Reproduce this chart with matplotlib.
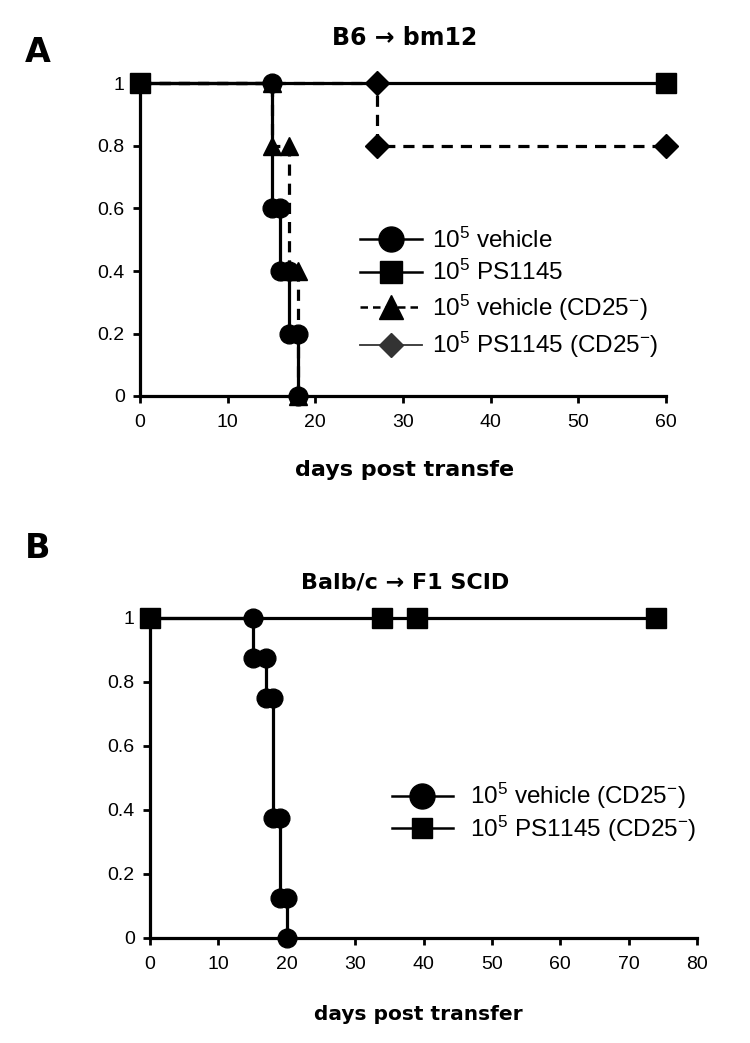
import matplotlib
matplotlib.use("Agg")
import matplotlib.pyplot as plt
from matplotlib.lines import Line2D

plt.rcParams['font.family'] = ['Liberation Sans', 'DejaVu Sans']
plt.rcParams['mathtext.fontset'] = 'custom'
plt.rcParams['mathtext.rm'] = 'Liberation Sans'
plt.rcParams['mathtext.it'] = 'Liberation Sans:italic'
plt.rcParams['mathtext.bf'] = 'Liberation Sans:bold'

# ---------------- data ----------------
# Panel A: B6 -> bm12
a_vehicle_days = [0, 15, 15, 16, 16, 17, 17, 18, 18]
a_vehicle_surv = [1.0, 1.0, 0.6, 0.6, 0.4, 0.4, 0.2, 0.2, 0.0]
a_ps1145_days = [0, 60]
a_ps1145_surv = [1.0, 1.0]
a_vehicle_cd25_days = [0, 15, 15, 17, 17, 18, 18]
a_vehicle_cd25_surv = [1.0, 1.0, 0.8, 0.8, 0.4, 0.4, 0.0]
a_ps1145_cd25_days = [0, 27, 27, 60]
a_ps1145_cd25_surv = [1.0, 1.0, 0.8, 0.8]

# Panel B: Balb/c -> F1 SCID
b_vehicle_cd25_days = [0, 15, 15, 17, 17, 18, 18, 19, 19, 20, 20]
b_vehicle_cd25_surv = [1.0, 1.0, 0.875, 0.875, 0.75, 0.75, 0.375, 0.375, 0.125, 0.125, 0.0]
b_ps1145_cd25_days = [0, 34, 39, 74]
b_ps1145_cd25_surv = [1.0, 1.0, 1.0, 1.0]

y_ticks = [0, 0.2, 0.4, 0.6, 0.8, 1]
y_ticklabels = ['0', '0.2', '0.4', '0.6', '0.8', '1']
a_x_ticks = [0, 10, 20, 30, 40, 50, 60]
b_x_ticks = [0, 10, 20, 30, 40, 50, 60, 70, 80]

labels_a = [r'10$^{\mathregular{5}}$ vehicle',
            r'10$^{\mathregular{5}}$ PS1145',
            r'10$^{\mathregular{5}}$ vehicle (CD25$^{\mathregular{-}}$)',
            r'10$^{\mathregular{5}}$ PS1145 (CD25$^{\mathregular{-}}$)']
labels_b = [r'10$^{\mathregular{5}}$ vehicle (CD25$^{\mathregular{-}}$)',
            r'10$^{\mathregular{5}}$ PS1145 (CD25$^{\mathregular{-}}$)']

# ---------------- figure ----------------
W, H = 750, 1043
fig = plt.figure(figsize=(W / 100, H / 100), dpi=100)

LW = 2.3
BOLD = ['DejaVu Sans']


def style_axes(ax, xmax, xticks):
    ax.set_xlim(0, xmax)
    ax.set_ylim(0, 1)
    ax.set_xticks(xticks)
    ax.set_yticks(y_ticks)
    ax.set_yticklabels(y_ticklabels)
    for s in ['top', 'right']:
        ax.spines[s].set_visible(False)
    for s in ['left', 'bottom']:
        ax.spines[s].set_linewidth(LW)
    ax.tick_params(direction='out', length=5, width=2, labelsize=14,
                   pad=6)
    ax.tick_params(axis='x', pad=8)


# Panel A axes
axA = fig.add_axes([140 / W, 1 - 396 / H, 526 / W, 312.5 / H])
axA.plot(a_ps1145_days, a_ps1145_surv, color='black', lw=LW, marker='s',
         ms=14.5, clip_on=False, zorder=3)
axA.plot(a_ps1145_cd25_days, a_ps1145_cd25_surv, color='black', lw=LW,
         ls=(0, (3.5, 2.5)), marker='D', ms=12, markevery=[1, 2, 3],
         clip_on=False, zorder=3)
axA.plot(a_vehicle_cd25_days, a_vehicle_cd25_surv, color='black', lw=LW,
         ls=(0, (3.5, 2.5)), marker='^', ms=13.5,
         markevery=list(range(1, len(a_vehicle_cd25_days))),
         clip_on=False, zorder=4)
axA.plot(a_vehicle_days, a_vehicle_surv, color='black', lw=LW, marker='o',
         ms=13.5, markevery=list(range(1, len(a_vehicle_days))),
         clip_on=False, zorder=4)
style_axes(axA, 60, a_x_ticks)

handles_a = [
    Line2D([], [], color='black', lw=1.8, marker='o', ms=18),
    Line2D([], [], color='black', lw=1.8, marker='s', ms=16),
    Line2D([], [], color='black', lw=1.8, ls=(0, (3, 2)), marker='^', ms=17),
    Line2D([], [], color='#333333', lw=1.3, marker='D', ms=12.5),
]
legA = fig.legend(handles_a, labels_a, loc='center left',
                  bbox_to_anchor=(360 / W, 1 - 294 / H),
                  bbox_transform=fig.transFigure, frameon=False,
                  fontsize=17.5, handlelength=2.55, handletextpad=0.4,
                  labelspacing=0.3, borderpad=0, borderaxespad=0)

fig.text(405 / W, 1 - 38 / H, 'B6 → bm12', ha='center', va='center',
         fontsize=17, fontweight='bold', family=BOLD)
fig.text(38 / W, 1 - 52 / H, 'A', ha='center', va='center',
         fontsize=24, fontweight='bold', family=BOLD)
fig.text(405 / W, 1 - 470 / H, 'days post transfe', ha='center',
         va='center', fontsize=16, fontweight='bold', family=BOLD)

# Panel B axes
axB = fig.add_axes([150 / W, 1 - 938 / H, 547 / W, 320 / H])
axB.plot(b_ps1145_cd25_days, b_ps1145_cd25_surv, color='black', lw=LW,
         marker='s', ms=14.5, clip_on=False, zorder=3)
axB.plot(b_vehicle_cd25_days, b_vehicle_cd25_surv, color='black', lw=LW,
         marker='o', ms=13.5,
         markevery=list(range(1, len(b_vehicle_cd25_days))),
         clip_on=False, zorder=4)
style_axes(axB, 80, b_x_ticks)

handles_b = [
    Line2D([], [], color='black', lw=1.8, marker='o', ms=18),
    Line2D([], [], color='black', lw=1.8, marker='s', ms=15),
]
legB = fig.legend(handles_b, labels_b, loc='center left',
                  bbox_to_anchor=(392 / W, 1 - 812.5 / H),
                  bbox_transform=fig.transFigure, frameon=False,
                  fontsize=17.5, handlelength=2.5, handletextpad=0.7,
                  labelspacing=0.1, borderpad=0, borderaxespad=0)

fig.text(405 / W, 1 - 583 / H, 'Balb/c → F1 SCID', ha='center',
         va='center', fontsize=16, fontweight='bold', family=BOLD)
fig.text(38 / W, 1 - 548 / H, 'B', ha='center', va='center',
         fontsize=24, fontweight='bold', family=BOLD)
fig.text(418 / W, 1 - 1014 / H, 'days post transfer', ha='center',
         va='center', fontsize=14.5, fontweight='bold', family=BOLD)

fig.savefig('out.png', dpi=100, facecolor='white')
